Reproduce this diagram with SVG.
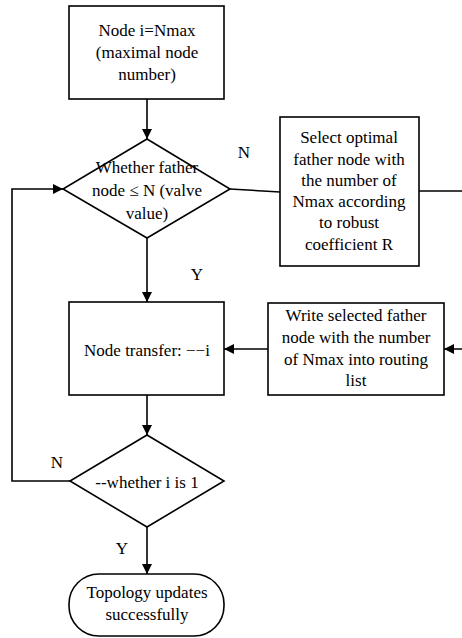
<svg xmlns="http://www.w3.org/2000/svg" width="462" height="638" viewBox="0 0 462 638">
<defs>
<marker id="ah" viewBox="0 0 10 10" refX="10" refY="5" markerWidth="10" markerHeight="10" markerUnits="userSpaceOnUse" orient="auto">
<path d="M0,0 L10,5 L0,10 Z" fill="#000"/>
</marker>
<style>
.sh{fill:#fff;stroke:#000;stroke-width:1.6}
.ln{fill:none;stroke:#000;stroke-width:1.6}
.t{font-family:"Liberation Serif","Times New Roman",serif;font-size:17px;fill:#000;text-anchor:middle}
</style>
</defs>
<rect width="462" height="638" fill="#fff"/>
<g id="connectors">
<path class="ln" d="M147,99 V139" marker-end="url(#ah)"/>
<path class="ln" d="M230,189 L280,192"/>
<path class="ln" d="M419,191 H470 V349 H444" marker-end="url(#ah)"/>
<path class="ln" d="M147,238 V302" marker-end="url(#ah)"/>
<path class="ln" d="M268,349 H224" marker-end="url(#ah)"/>
<path class="ln" d="M147,395 V435" marker-end="url(#ah)"/>
<path class="ln" d="M70,481 H12 V189 H63" marker-end="url(#ah)"/>
<path class="ln" d="M147,527 V574" marker-end="url(#ah)"/>
<text class="t" x="244" y="158">N</text>
<text class="t" x="197" y="280">Y</text>
<text class="t" x="57" y="468">N</text>
<text class="t" x="122" y="554">Y</text>
</g>
<g id="start">
<rect class="sh" x="69" y="6" width="155" height="93"/>
<text class="t" x="147" y="36">Node i=Nmax</text>
<text class="t" x="147" y="58">(maximal node</text>
<text class="t" x="147" y="80">number)</text>
</g>
<g id="decision1">
<polygon class="sh" points="147,139 230,189 147,238 63,189"/>
<text class="t" x="147" y="173">Whether father</text>
<text class="t" x="147" y="196">node ≤ N (valve</text>
<text class="t" x="147" y="219">value)</text>
</g>
<g id="select">
<rect class="sh" x="280" y="117" width="139" height="149"/>
<text class="t" x="349" y="143">Select optimal</text>
<text class="t" x="349" y="165">father node with</text>
<text class="t" x="349" y="186">the number of</text>
<text class="t" x="349" y="207">Nmax according</text>
<text class="t" x="349" y="228">to robust</text>
<text class="t" x="349" y="250">coefficient R</text>
</g>
<g id="transfer">
<rect class="sh" x="69" y="302" width="155" height="93"/>
<text class="t" x="147" y="356">Node transfer: −−i</text>
</g>
<g id="write">
<rect class="sh" x="268" y="303" width="176" height="92"/>
<text class="t" x="356" y="321">Write selected father</text>
<text class="t" x="356" y="343">node with the number</text>
<text class="t" x="356" y="365">of Nmax into routing</text>
<text class="t" x="356" y="386">list</text>
</g>
<g id="decision2">
<polygon class="sh" points="147,435 224,481 147,527 70,481"/>
<text class="t" x="147" y="488">--whether i is 1</text>
</g>
<g id="end">
<rect class="sh" x="69" y="574" width="155" height="62" rx="30" ry="30"/>
<text class="t" x="147" y="598">Topology updates</text>
<text class="t" x="147" y="620">successfully</text>
</g>
</svg>
